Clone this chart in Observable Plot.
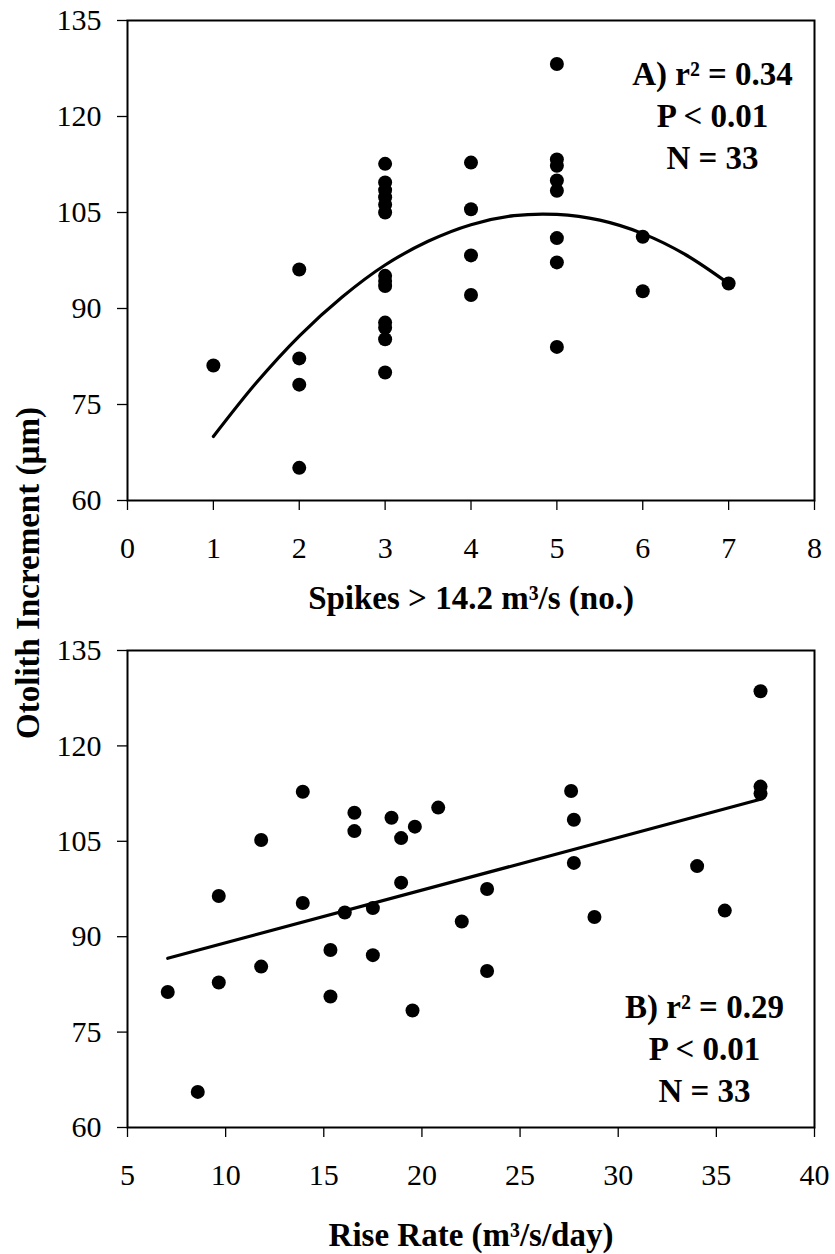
<!DOCTYPE html>
<html>
<head>
<meta charset="utf-8">
<script src="https://cdn.jsdelivr.net/npm/d3@7"></script>
<script src="https://cdn.jsdelivr.net/npm/@observablehq/plot@0.6"></script>
<style>
  body { margin: 0; background: #fff; }
  #fig { position: relative; width: 835px; height: 1254px; background: #fff; }
  #fig svg { position: absolute; left: 0; }
</style>
</head>
<body>
<div id="fig"></div>
<script>
// ---------- Panel A: Spikes > 14.2 m³/s ----------
const spikes = [1, 2, 2, 2, 2,
  3, 3, 3, 3, 3, 3, 3, 3, 3, 3, 3, 3, 3,
  4, 4, 4, 4,
  5, 5, 5, 5, 5, 5, 5, 5,
  6, 6, 7];
const incrementA = [81.1, 96.1, 82.2, 78.1, 65.1,
  112.6, 109.7, 108.5, 107.4, 106.2, 105.0, 95.1, 94.3, 93.5, 87.8, 87.0, 85.2, 80.0,
  112.8, 105.5, 98.3, 92.1,
  128.2, 113.3, 112.3, 110.0, 108.4, 101.0, 97.2, 84.0,
  101.2, 92.7, 93.9];
// Quadratic trend line
const trendAx = [1, 1.5, 2, 2.5, 3, 3.5, 4, 4.5, 5, 5.5, 6, 6.5, 7];
const trendAy = [70.0, 78.4, 85.7, 91.8, 96.8, 100.5, 103.1, 104.5, 104.7, 103.8, 101.7, 98.4, 93.9];

// ---------- Panel B: Rise rate ----------
const riseRate = [7.05, 8.58, 9.65, 9.65, 11.81, 11.81, 13.93, 13.93, 15.34, 15.34,
  16.07, 16.56, 16.56, 17.5, 17.5, 18.45, 18.94, 18.94, 19.52, 19.64,
  20.83, 22.03, 23.32, 23.32, 27.6, 27.74, 27.74, 28.79, 34.02, 35.43,
  37.25, 37.25, 37.25];
const incrementB = [81.3, 65.6, 96.4, 82.8, 105.2, 85.3, 112.8, 95.3, 87.9, 80.6,
  93.8, 109.5, 106.6, 94.5, 87.1, 108.7, 105.5, 98.5, 78.4, 107.3,
  110.3, 92.4, 97.5, 84.6, 112.9, 108.4, 101.6, 93.1, 101.1, 94.1,
  128.6, 113.6, 112.5];
const trendBx = [7.05, 37.25];
const trendBy = [86.6, 111.6];

// ---------- Ticks and text ----------
const yTicks = [60, 75, 90, 105, 120, 135];
const xTicksA = [0, 1, 2, 3, 4, 5, 6, 7, 8];
const xTicksB = [5, 10, 15, 20, 25, 30, 35, 40];
const annotA = ["A) r² = 0.34\nP < 0.01\nN = 33"];
const annotB = ["B) r² = 0.29\nP < 0.01\nN = 33"];
const xTitleA = ["Spikes > 14.2 m³/s (no.)"];
const xTitleB = ["Rise Rate (m³/s/day)"];
const yTitle = "Otolith Increment (µm)";

const FONT = "'Liberation Serif', 'Times New Roman', serif";
const dataA = spikes.map((x, i) => ({x, y: incrementA[i]}));
const lineA = trendAx.map((x, i) => ({x, y: trendAy[i]}));
const dataB = riseRate.map((x, i) => ({x, y: incrementB[i]}));
const lineB = trendBx.map((x, i) => ({x, y: trendBy[i]}));

function panel({height, marginTop, marginBottom, xDomain, xTicks, data, line, curve, annot, annotDx, annotDy, title, titleDy}) {
  return Plot.plot({
    width: 835,
    height,
    marginTop,
    marginBottom,
    marginLeft: 127,
    marginRight: 21,
    style: {fontFamily: FONT, fontSize: "30px", color: "black", background: "transparent", overflow: "visible"},
    x: {domain: xDomain},
    y: {domain: [60, 135]},
    marks: [
      Plot.axisX({ticks: xTicks, tickSize: 10, tickPadding: 26, label: null, strokeWidth: 1.3,
        fontFamily: FONT, fontSize: 30, tickFormat: d => String(d)}),
      Plot.axisY({ticks: yTicks, tickSize: 10, tickPadding: 16, label: null, strokeWidth: 1.3,
        fontFamily: FONT, fontSize: 30, tickFormat: d => String(d)}),
      Plot.frame({stroke: "black", strokeWidth: 2}),
      Plot.line(line, {x: "x", y: "y", stroke: "black", strokeWidth: 3.2, curve}),
      Plot.dot(data, {x: "x", y: "y", r: 7, fill: "black"}),
      Plot.text(annot, {frameAnchor: "top-right", text: d => d, textAnchor: "middle", lineAnchor: "top",
        dx: annotDx, dy: annotDy, lineHeight: 1.27, fontFamily: FONT, fontSize: 33, fontWeight: "bold", fill: "black"}),
      Plot.text(title, {frameAnchor: "bottom", text: d => d, textAnchor: "middle", lineAnchor: "top",
        dy: titleDy, fontFamily: FONT, fontSize: 33, fontWeight: "bold", fill: "black"})
    ]
  });
}

const fig = document.getElementById("fig");

const plotA = panel({
  height: 640, marginTop: 20, marginBottom: 140,
  xDomain: [0, 8], xTicks: xTicksA, data: dataA, line: lineA, curve: "catmull-rom",
  annot: annotA, annotDx: -102, annotDy: 35, title: xTitleA, titleDy: 85
});
plotA.style.top = "0px";
fig.appendChild(plotA);

const plotB = panel({
  height: 614, marginTop: 10, marginBottom: 127,
  xDomain: [5, 40], xTicks: xTicksB, data: dataB, line: lineB, curve: "linear",
  annot: annotB, annotDx: -110, annotDy: 338, title: xTitleB, titleDy: 95
});
plotB.style.top = "640px";
fig.appendChild(plotB);

// Shared y-axis title
const overlay = d3.create("svg")
  .attr("width", 835).attr("height", 1254)
  .style("position", "absolute").style("top", "0px").style("left", "0px")
  .style("pointer-events", "none").style("overflow", "visible");
overlay.append("text")
  .attr("transform", "translate(38.5,573) rotate(-90)")
  .attr("text-anchor", "middle")
  .attr("font-family", FONT)
  .attr("font-size", 33)
  .attr("font-weight", "bold")
  .attr("fill", "black")
  .text(yTitle);
fig.appendChild(overlay.node());
</script>
</body>
</html>
